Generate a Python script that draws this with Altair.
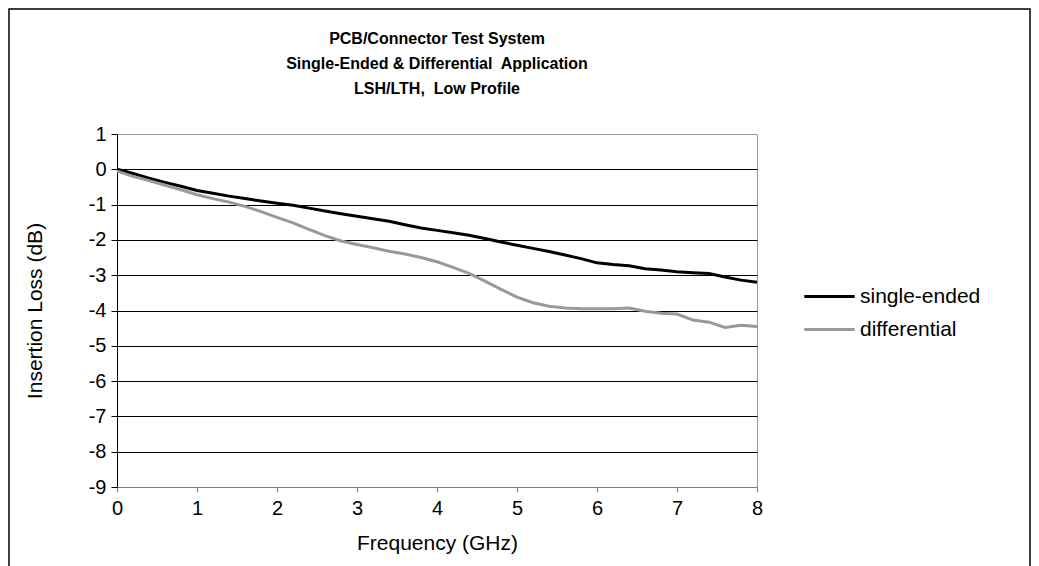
import altair as alt
import pandas as pd

# Frequency grid (GHz) and measured insertion loss (dB) for both setups
freq_ghz = [0.0, 0.2, 0.4, 0.6, 0.8, 1.0, 1.2, 1.4, 1.6, 1.8, 2.0,
            2.2, 2.4, 2.6, 2.8, 3.0, 3.2, 3.4, 3.6, 3.8, 4.0,
            4.2, 4.4, 4.6, 4.8, 5.0, 5.2, 5.4, 5.6, 5.8, 6.0,
            6.2, 6.4, 6.6, 6.8, 7.0, 7.2, 7.4, 7.6, 7.8, 8.0]

single_ended = [0.0, -0.12, -0.25, -0.37, -0.48, -0.60, -0.68, -0.76, -0.83, -0.90, -0.96,
                -1.02, -1.10, -1.18, -1.26, -1.33, -1.40, -1.47, -1.57, -1.66, -1.73,
                -1.80, -1.87, -1.96, -2.06, -2.15, -2.24, -2.33, -2.43, -2.53, -2.65,
                -2.70, -2.73, -2.82, -2.85, -2.90, -2.93, -2.95, -3.05, -3.14, -3.20]

differential = [-0.05, -0.20, -0.32, -0.45, -0.58, -0.72, -0.83, -0.93, -1.05, -1.20, -1.36,
                -1.52, -1.70, -1.88, -2.03, -2.13, -2.22, -2.32, -2.40, -2.50, -2.62,
                -2.78, -2.95, -3.17, -3.40, -3.62, -3.78, -3.88, -3.93, -3.95, -3.95,
                -3.95, -3.93, -4.02, -4.08, -4.10, -4.27, -4.33, -4.48, -4.42, -4.45]

series_names = ["single-ended", "differential"]
series_colors = ["#000000", "#999999"]

title_lines = ["PCB/Connector Test System",
               "Single-Ended & Differential\u00a0 Application",
               "LSH/LTH,\u00a0 Low Profile"]

rows = []
for f, v in zip(freq_ghz, single_ended):
    rows.append({"freq": f, "loss": v, "series": series_names[0]})
for f, v in zip(freq_ghz, differential):
    rows.append({"freq": f, "loss": v, "series": series_names[1]})
df = pd.DataFrame(rows)

FONT = "Liberation Sans"

lines = alt.Chart(df).mark_line(strokeWidth=3, interpolate="linear").encode(
    x=alt.X("freq:Q",
            scale=alt.Scale(domain=[0, 8], nice=False, zero=False),
            axis=alt.Axis(title="Frequency (GHz)", values=list(range(0, 9)),
                          labelExpr="'' + datum.value", labelFlush=False, grid=False,
                          tickSize=5, tickColor="#808080", domainColor="#808080",
                          labelPadding=6, labelFontSize=20, titleFontSize=21,
                          titleFontWeight="normal", titlePadding=14,
                          labelColor="#000", titleColor="#000")),
    y=alt.Y("loss:Q",
            scale=alt.Scale(domain=[-9, 1], nice=False, zero=False),
            axis=alt.Axis(title="Insertion Loss (dB)", values=list(range(-9, 2)),
                          labelExpr="'' + datum.value", labelFlush=False, grid=True,
                          gridColor={"expr": "datum.value == 1 || datum.value == -9 ? '#999999' : '#000000'"},
                          gridWidth=1, tickSize=6, tickColor="#000", domainColor="#000",
                          labelPadding=5, labelFontSize=20, titleFontSize=21,
                          titleFontWeight="normal", titlePadding=43,
                          labelColor="#000", titleColor="#000")),
    color=alt.Color("series:N",
                    scale=alt.Scale(domain=series_names, range=series_colors),
                    legend=alt.Legend(title=None, orient="none", legendX=690, legendY=140,
                                      symbolType="M-1.2,0H1.2", symbolSize=1764,
                                      symbolStrokeWidth=3, labelFontSize=21,
                                      labelOffset=8, rowPadding=0, labelColor="#000")),
)

# Outer frame around the whole figure
frame = alt.Chart(pd.DataFrame({"k": [0]})).mark_rect(
    fill=None, stroke="#000000", strokeWidth=1.5
).encode(x=alt.value(-108), x2=alt.value(913), y=alt.value(-125), y2=alt.value(460))

chart = alt.layer(frame, lines).properties(
    width=640, height=353,
    title=alt.TitleParams(text=title_lines, fontSize=16, fontWeight="bold", font=FONT,
                          lineHeight=25, anchor="middle", frame="group", offset=-89,
                          color="#000"),
    autosize=alt.AutoSizeParams(type="none"),
    padding={"left": 117, "top": 134, "right": 282, "bottom": 79},
).configure(font=FONT, background="white").configure_view(
    stroke="#999999", strokeWidth=1
)

chart.save("out.html", embed_options={"renderer": "svg", "actions": False})
